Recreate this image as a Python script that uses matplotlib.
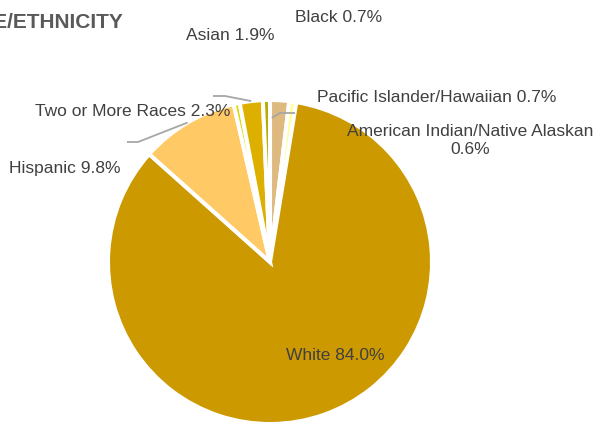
"""Race/ethnicity pie chart (Excel style, labels placed by hand)."""

import numpy as np
import matplotlib.pyplot as plt

plt.rcParams["font.family"] = ["Liberation Sans", "DejaVu Sans"]

# clockwise from 12 o'clock
groups = ["Asian", "Pacific Islander/Hawaiian", "White", "Hispanic",
          "American Indian/Native Alaskan", "Two or More Races", "Black"]
shares = [1.9, 0.7, 84.0, 9.8, 0.6, 2.3, 0.7]
colors = ["#DEBA80", "#FFFF99", "#CC9900", "#FFC966",
          "#DCD800", "#DDB000", "#B3AE00"]

W, H = 593, 422
CX, CY, R = 270, 262, 162      # pie centre / radius in pixel coords (y down)


def px(x, y):
    """pixel coords (y down) -> data coords (y up)"""
    return x, H - y


def rim(i, frac=1.0, where=0.5):
    """point on wedge i: where=0 start edge, 1 end edge, frac of radius"""
    start = sum(shares[:i]) / 100 * 360
    ang = np.deg2rad(start + where * shares[i] / 100 * 360)
    return CX + frac * R * np.sin(ang), CY - frac * R * np.cos(ang)


fig = plt.figure(figsize=(W / 100, H / 100), dpi=100)
ax = fig.add_axes([0, 0, 1, 1])
ax.pie(shares, colors=colors, startangle=90, counterclock=False,
       center=px(CX, CY), radius=R,
       wedgeprops=dict(edgecolor="white", linewidth=2.9))
ax.set_xlim(0, W)
ax.set_ylim(0, H)
ax.set_aspect("equal")
ax.axis("off")

txt = dict(fontsize=12.5, color="#404040", ha="center", va="center")
label_pos = {
    "Asian": (230, 35),
    "Black": (339, 18),
    "Pacific Islander/Hawaiian": (437, 97),
    "American Indian/Native Alaskan": (470, 141),
    "White": (335, 355),
    "Hispanic": (65, 168),
    "Two or More Races": (133, 112),
}
for name, val in zip(groups, shares):
    x, y = label_pos[name]
    sep = "\n" if name.startswith("American") else " "
    ax.text(*px(x, y), f"{name}{sep}{val:.1f}%", linespacing=1.25, **txt)

# leader lines
lead = dict(color="#A6A6A6", lw=1.3, solid_capstyle="butt")
hx, hy = rim(3)
ax.plot(*zip(px(127, 142), px(138, 142), px(hx, hy)), **lead)
tx, ty = rim(5)
ax.plot(*zip(px(213, 96), px(225, 96), px(tx, ty)), **lead)
ax_, ay_ = rim(0, frac=0.89, where=0.1)
ax.plot(*zip(px(ax_, ay_), px(280, 113), px(295, 113)), **lead)

ax.text(*px(123, 22), "RACE/ETHNICITY", fontsize=15, fontweight="bold",
        color="#595959", ha="right", va="center")

fig.savefig("out.png", dpi=100)
